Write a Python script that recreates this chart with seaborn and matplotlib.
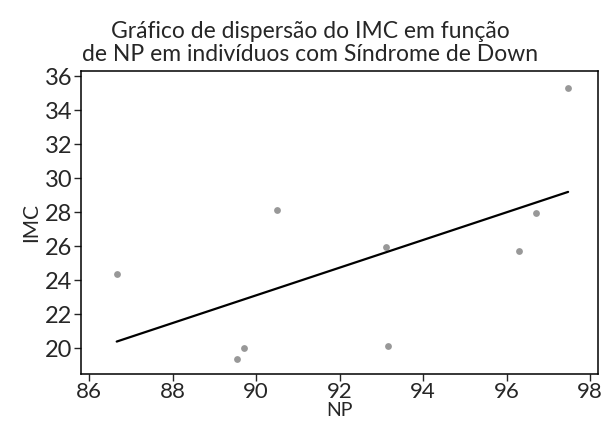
import numpy as np
import pandas as pd
import matplotlib
matplotlib.use("Agg")
import matplotlib.pyplot as plt
import seaborn as sns

# Valores
np_vals = [86.66, 89.54, 89.72, 90.50, 93.10, 93.16, 96.30, 96.70, 97.47]
imc_vals = [24.37, 19.35, 20.00, 28.12, 25.92, 20.12, 25.69, 27.92, 35.31]
x_ticks = [86, 88, 90, 92, 94, 96, 98]
y_ticks = [20, 22, 24, 26, 28, 30, 32, 34, 36]

df = pd.DataFrame({"NP": np_vals, "IMC": imc_vals})

sns.set_style("ticks")
plt.rcParams["font.family"] = ["Lato", "DejaVu Sans"]

fig = plt.figure(figsize=(6.03, 4.26), dpi=100)
ax = fig.add_axes([0.134, 0.122, 0.858, 0.711])

sns.regplot(data=df, x="NP", y="IMC", ax=ax, ci=None,
            scatter_kws={"color": "#7f7f7f", "s": 24, "linewidths": 0},
            line_kws={"color": "black", "linewidth": 1.6})

ax.set_xlim(85.8, 98.19)
ax.set_ylim(18.47, 36.3)
ax.set_xticks(x_ticks)
ax.set_yticks(y_ticks)
ax.tick_params(labelsize=16, length=5, width=1, pad=1)
ax.tick_params(axis="y", labelsize=17)
for s in ax.spines.values():
    s.set_linewidth(1.1)
    s.set_color("black")

ax.set_xlabel("NP", fontsize=14, labelpad=0)
ax.set_ylabel("IMC", fontsize=15, labelpad=3)
ax.set_title("Gráfico de dispersão do IMC em função\nde NP em indivíduos com Síndrome de Down",
             fontsize=16.5, x=0.443, pad=7, linespacing=1.15)

fig.savefig("out.png", dpi=100)
